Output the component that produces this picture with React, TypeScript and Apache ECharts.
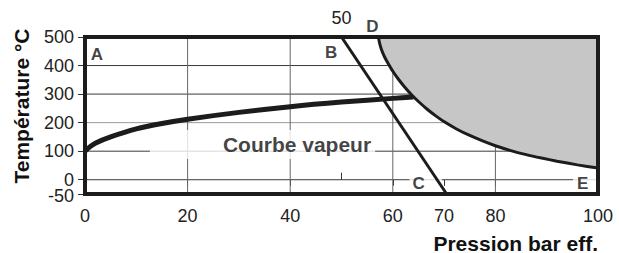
import React, { useEffect, useRef } from "react";
import * as echarts from "echarts";

// ---- data ----
const yTickValues = [0, 100, 200, 300, 400, 500];
const yMinTickValues = [-50];
const xTickValues = [0, 20, 40, 60, 70, 80, 100];
const xTopTickValues = [50];

const hGridValues = [400, 300, 200, 100, 0];
const hGridColors = ["#3a3a3a", "#3a3a3a", "#9a9a9a", "#3a3a3a", "#3a3a3a"];
const vGridValues = [20, 40, 60, 80];

// Courbe vapeur (saturated steam)
const steamP = [0, 1, 2, 5, 10, 15, 20, 30, 40, 50, 60, 64];
const steamT = [100, 116, 128, 150, 178, 197, 212, 236, 256, 272, 285, 290];

// Limit curve D -> E (shaded area above)
const limitP = [57.2, 57.4, 57.8, 58.4, 59.1, 60, 61.1, 62.3, 63.7, 65, 66.7, 68.5, 70.2, 72.5, 75, 77.5, 80, 83, 86, 89, 92, 96, 100];
const limitT = [500, 480, 455, 430, 407, 380, 352, 325, 297, 274, 247, 222, 201, 177, 155, 136, 119, 102, 88, 76, 65, 52, 41];

// Line B -> C
const lineBCP = [50, 70.5];
const lineBCT = [500, -50];

// Letter annotations
const letterNames = ["A", "B", "D"];
const letterP = [2.3, 48.0, 56.0];
const letterT = [440, 445, 537];

// Letters with white background on the 0 gridline
const boxLetterNames = ["C", "E"];
const boxLetterP = [66.4, 97.5];
const boxLetterT = [-12, -12];
const boxLetterPadding = [
  [2, 17, 2, 3],
  [2, 9, 2, 4],
];

const steamLabelText = "Courbe vapeur";
const steamLabelP = 34.6;
const steamLabelT = 123;

const yTitle = "Température °C";
const xTitle = "Pression bar eff.";

const FONT = "'Liberation Sans', Arial, Helvetica, sans-serif";
const INK = "#1c1c1c";

export default function App() {
  const ref = useRef<HTMLDivElement>(null);

  useEffect(() => {
    if (!ref.current) return;
    const chart = echarts.init(ref.current, null, { renderer: "svg" });

    const gridSeries: any[] = [];
    hGridValues.forEach((v, i) => {
      gridSeries.push({
        type: "line",
        data: [
          [0, v],
          [100, v],
        ],
        symbol: "none",
        silent: true,
        z: 1,
        lineStyle: { color: hGridColors[i], width: 1 },
      });
    });
    vGridValues.forEach((v) => {
      gridSeries.push({
        type: "line",
        data: [
          [v, -50],
          [v, 500],
        ],
        symbol: "none",
        silent: true,
        z: 1,
        lineStyle: { color: "#666", width: 1 },
      });
    });

    const tickLabel = {
      fontSize: 18,
      lineHeight: 12,
      fontFamily: FONT,
      color: "#222",
      hideOverlap: false,
      showMinLabel: true,
      showMaxLabel: true,
    };

    const yAxisBase = {
      type: "value",
      min: -50,
      max: 500,
      position: "left",
      splitLine: { show: false },
      axisLine: { show: false },
    };

    const option: any = {
      animation: false,
      grid: {
        left: 85,
        top: 37,
        right: 21,
        bottom: 59,
        show: true,
        borderColor: INK,
        borderWidth: 4,
        backgroundColor: "transparent",
        z: 10,
      },
      xAxis: [
        {
          type: "value",
          min: 0,
          max: 100,
          position: "bottom",
          splitLine: { show: false },
          axisLine: { show: false },
          axisTick: {
            show: true,
            customValues: xTickValues,
            length: 6,
            lineStyle: { color: "#333", width: 1 },
          },
          axisLabel: { ...tickLabel, customValues: xTickValues, margin: 16 },
        },
        {
          type: "value",
          min: 0,
          max: 100,
          position: "top",
          splitLine: { show: false },
          axisLine: { show: false },
          axisTick: {
            show: true,
            customValues: xTopTickValues,
            length: 7,
            lineStyle: { color: "#333", width: 1 },
          },
          axisLabel: { ...tickLabel, customValues: xTopTickValues, margin: 13 },
        },
      ],
      yAxis: [
        {
          ...yAxisBase,
          axisTick: {
            show: true,
            customValues: yTickValues,
            length: 7,
            lineStyle: { color: "#333", width: 1 },
          },
          axisLabel: { ...tickLabel, customValues: yTickValues, margin: 11 },
        },
        {
          ...yAxisBase,
          axisTick: {
            show: true,
            customValues: yMinTickValues,
            length: 7,
            lineStyle: { color: "#333", width: 1 },
          },
          axisLabel: {
            ...tickLabel,
            customValues: yMinTickValues,
            margin: 11,
            lineHeight: 4,
            verticalAlign: "top",
          },
        },
      ],
      graphic: [
        {
          type: "text",
          x: 21,
          y: 106,
          rotation: Math.PI / 2,
          style: {
            text: yTitle,
            font: `bold 21px ${FONT}`,
            fill: "#111",
            align: "center",
            verticalAlign: "middle",
          },
        },
        {
          type: "text",
          x: 598,
          y: 243,
          style: {
            text: xTitle,
            font: `bold 21px ${FONT}`,
            fill: "#111",
            align: "right",
            verticalAlign: "middle",
          },
        },
      ],
      series: [
        ...gridSeries,
        {
          type: "line",
          data: limitP.map((p, i) => [p, limitT[i]]),
          symbol: "none",
          smooth: 0.2,
          z: 3,
          silent: true,
          lineStyle: { color: INK, width: 3 },
          areaStyle: { color: "#c6c6c6", opacity: 1, origin: "end" },
        },
        {
          type: "scatter",
          data: [[steamLabelP, steamLabelT]],
          symbolSize: 0,
          clip: false,
          silent: true,
          z: 4,
          label: {
            show: true,
            position: "inside",
            formatter: steamLabelText,
            fontFamily: FONT,
            fontWeight: "bold",
            fontSize: 21,
            lineHeight: 21,
            color: "#111",
            backgroundColor: "#fff",
            padding: [4, 4, 4, 73],
          },
        },
        {
          type: "scatter",
          data: boxLetterNames.map((n, i) => ({
            name: n,
            value: [boxLetterP[i], boxLetterT[i]],
            label: { padding: boxLetterPadding[i] },
          })),
          symbolSize: 0,
          clip: false,
          silent: true,
          z: 4,
          label: {
            show: true,
            position: "inside",
            formatter: "{b}",
            fontFamily: FONT,
            fontWeight: "bold",
            fontSize: 17,
            lineHeight: 17,
            color: "#111",
            backgroundColor: "#fff",
          },
        },
        {
          type: "scatter",
          data: letterNames.map((n, i) => ({ name: n, value: [letterP[i], letterT[i]] })),
          symbolSize: 0,
          clip: false,
          silent: true,
          z: 6,
          label: {
            show: true,
            position: "inside",
            formatter: "{b}",
            fontFamily: FONT,
            fontWeight: "bold",
            fontSize: 17,
            color: "#111",
          },
        },
        {
          type: "line",
          data: lineBCP.map((p, i) => [p, lineBCT[i]]),
          symbol: "none",
          z: 5,
          silent: true,
          lineStyle: { color: INK, width: 3 },
        },
        {
          type: "line",
          data: steamP.map((p, i) => [p, steamT[i]]),
          symbol: "none",
          smooth: 0.3,
          z: 5,
          silent: true,
          lineStyle: { color: INK, width: 5 },
        },
      ],
    };

    chart.setOption(option);
    return () => chart.dispose();
  }, []);

  return (
    <div
      ref={ref}
      style={{ position: "fixed", left: 0, top: 0, width: 619, height: 253, background: "#fff" }}
    />
  );
}
